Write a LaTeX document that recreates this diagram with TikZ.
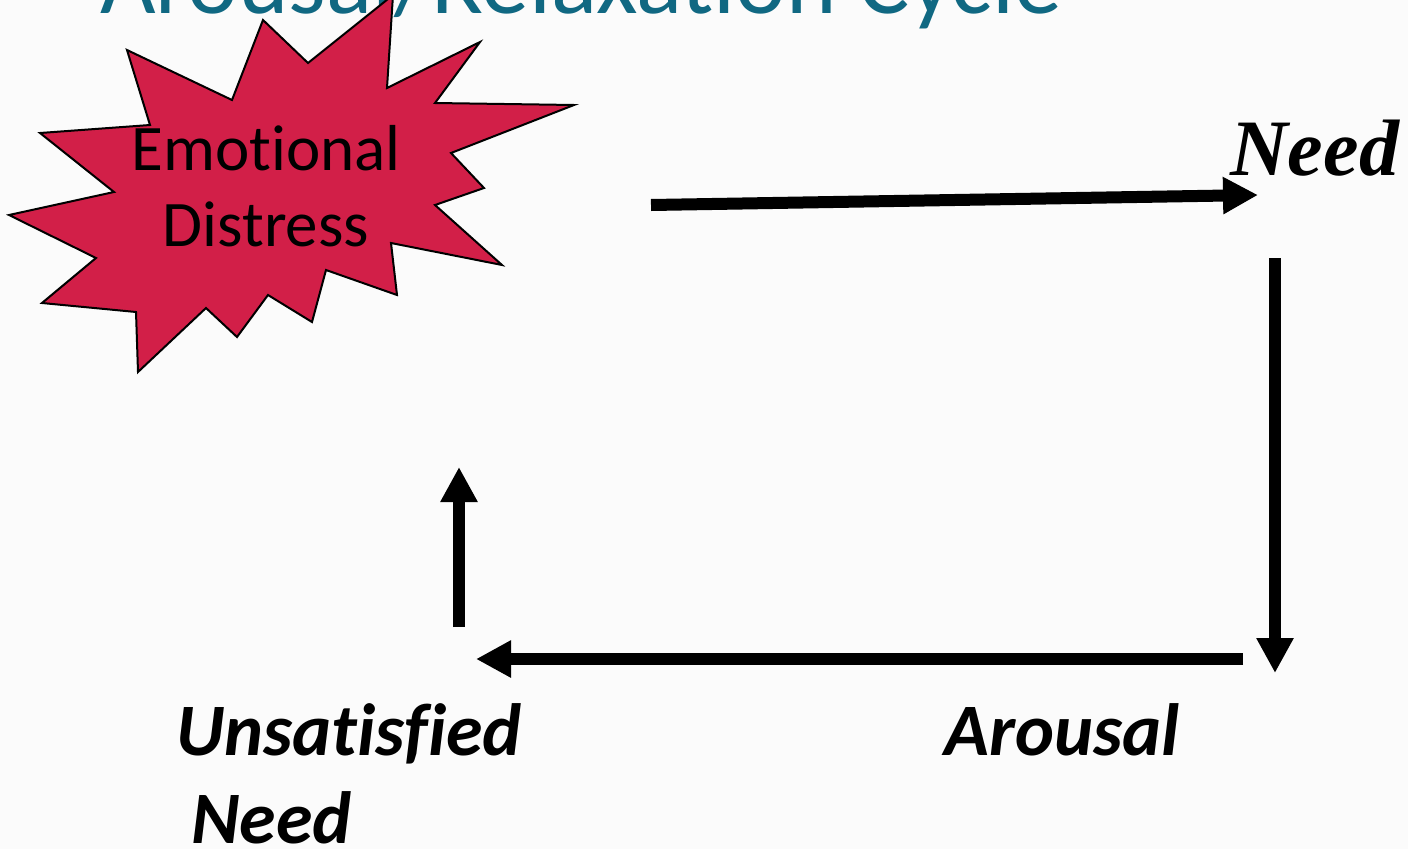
\documentclass[tikz,border=0pt]{standalone}
\usepackage{fontspec}
\setmainfont{Carlito}[Ligatures=NoCommon]
\newfontfamily\serifbi{Liberation Serif}
\usetikzlibrary{arrows.meta}
\definecolor{titleteal}{RGB}{16,104,130}
\definecolor{starred}{RGB}{210,31,72}
\definecolor{bgpaper}{RGB}{251,251,251}
\begin{document}
\begin{tikzpicture}[x=1pt,y=-1pt,
  flowarrow/.style={line width=12pt, -{Triangle[length=35pt,width=35pt]}},
  label/.style={inner sep=0pt, font=\bfseries\itshape\fontsize{74}{88}\selectfont}]
\useasboundingbox (0,0) rectangle (1408,849);
\clip (0,0) rectangle (1408,849);
\fill[bgpaper] (0,0) rectangle (1408,849);
% title (cut off at the top, as in the reference)
\node[anchor=base west, inner sep=0pt, text=titleteal, font=\fontsize{96}{96}\selectfont] (title) at (100,13) {Arousal/Relaxation Cycle};
% star
\filldraw[fill=starred, draw=black, line width=2pt, line join=miter]
 (127,50) -- (232,100) -- (263,20) -- (308,63) -- (393,-5) -- (387,88) -- (480,42) -- (435,103)
 -- (574,105) -- (451,153) -- (484,188) -- (435,205) -- (502,265) -- (391,243) -- (397,295)
 -- (326,270) -- (312,322) -- (268,295) -- (237,337) -- (206,308) -- (138,372) -- (136,312)
 -- (42,303) -- (96,258) -- (9,215) -- (114,192) -- (40,133) -- (150,125) -- cycle;
\node[anchor=base, inner sep=0pt, align=center, font=\fontsize{65}{76}\selectfont] (emo) at (266,246) {Emotional\\Distress};
% labels
\node[anchor=base west, inner sep=0pt, font=\serifbi\bfseries\itshape\fontsize{80}{80}\selectfont] (need) at (1230,175) {Need};
\node[label, anchor=base west] (arousal) at (944,755) {Arousal};
\node[label, anchor=base west, align=left] (unsat) at (176,843) {Unsatisfied\\\hspace*{15pt}Need};
% arrow ends
\coordinate (a1s) at (651,205); \coordinate (a1e) at (1258,195);
\coordinate (a2s) at (1275,258); \coordinate (a2e) at (1275,673);
\coordinate (a3s) at (1243,659); \coordinate (a3e) at (476,659);
\coordinate (a4s) at (459,627); \coordinate (a4e) at (459,467);
\draw[flowarrow] (a1s) -- (a1e);
\draw[flowarrow] (a2s) -- (a2e);
\draw[flowarrow] (a3s) -- (a3e);
\draw[flowarrow] (a4s) -- (a4e);
\end{tikzpicture}
\end{document}
